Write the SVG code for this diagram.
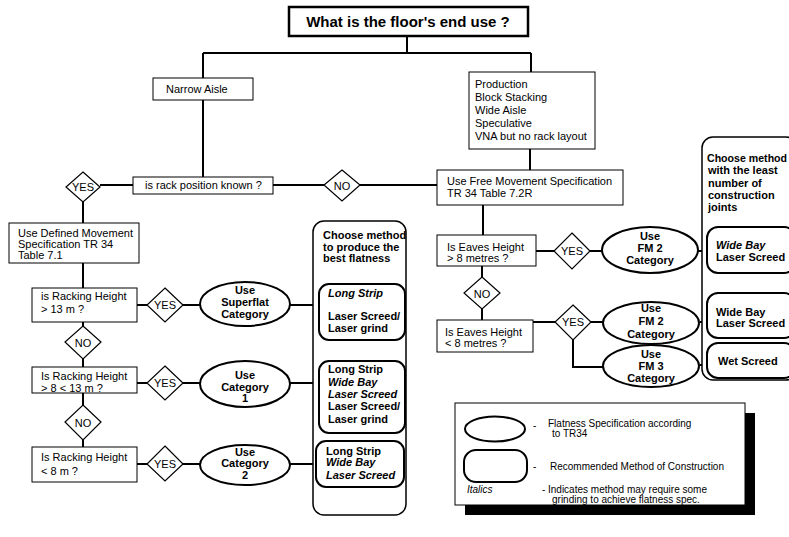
<svg xmlns="http://www.w3.org/2000/svg" width="789" height="537" viewBox="0 0 789 537">
  <style>
    text { font-family: "Liberation Sans", Arial, sans-serif; font-size: 11px; fill: #000; }
    .b { font-weight: bold; }
    .i { font-style: italic; }
    .t { font-size: 15px; font-weight: bold; }
    .lg { font-size: 10px; }
    .c { text-anchor: middle; }
    .hd { font-size: 10.6px; }
    .box { fill: #fff; stroke: #000; stroke-width: 1; }
    .dia { fill: #fff; stroke: #000; stroke-width: 1.2; }
    .ell { fill: #fff; stroke: #000; stroke-width: 2; }
    .pill { fill: #fff; stroke: #000; stroke-width: 2; }
    .col { fill: #fff; stroke: #000; stroke-width: 1.5; }
    .ln { fill: none; stroke: #000; stroke-width: 2; }
  </style>
  <rect width="789" height="537" fill="#fff"/>

  <!-- connectors -->
  <g id="connectors">
    <path class="ln" d="M407 36 V53 M203 53 H531 M203 53 V78 M531 53 V72"/>
    <path class="ln" d="M203 100 V177"/>
    <path class="ln" d="M100 185 H133 M273 185 H324 M360 185 H437"/>
    <path class="ln" d="M530 149 V170"/>
    <path class="ln" d="M83 202 V223 M83 263 V288"/>
    <path class="ln" d="M83 322 V326 M83 359 V367 M83 393 V405 M83 440 V447"/>
    <path class="ln" d="M137 305 H147 M183 305 H200 M290 305 H319"/>
    <path class="ln" d="M137 383 H147 M183 383 H200 M290 383 H319"/>
    <path class="ln" d="M137 464 H147 M183 464 H200 M290 464 H316"/>
    <path class="ln" d="M483 205 V235"/>
    <path class="ln" d="M536 251 H554 M590 251 H602 M698 251 H707"/>
    <path class="ln" d="M482 266 V277 M482 309 V320"/>
    <path class="ln" d="M533 322 H555 M591 322 H603 M700 322 H707"/>
    <path class="ln" d="M573 340 V367 H603 M700 365 H707"/>
  </g>

  <!-- title -->
  <g id="title">
    <rect x="289" y="7" width="239" height="29" fill="#fff" stroke="#000" stroke-width="2.5"/>
    <text class="t c" x="408" y="27">What is the floor's end use ?</text>
  </g>

  <g id="narrow-aisle">
    <rect class="box" x="153" y="78" width="100" height="22"/>
    <text x="166" y="93">Narrow  Aisle</text>
  </g>

  <g id="end-uses">
    <rect class="box" x="469" y="72" width="126" height="77"/>
    <text x="475" y="88">Production</text>
    <text x="475" y="101">Block  Stacking</text>
    <text x="475" y="114">Wide  Aisle</text>
    <text x="475" y="127">Speculative</text>
    <text x="475" y="140">VNA  but  no  rack  layout</text>
  </g>

  <g id="rack-known">
    <rect class="box" x="133" y="177" width="140" height="17"/>
    <text x="145" y="189">is  rack  position  known ?</text>
  </g>

  <g id="yes-rack">
    <polygon class="dia" points="83,172 100,187 83,202 66,187"/>
    <text class="c" x="83" y="191">YES</text>
  </g>
  <g id="no-rack">
    <polygon class="dia" points="342,170 360,185 342,201 324,185"/>
    <text class="c" x="342" y="190" font-size="12">NO</text>
  </g>

  <!-- defined movement branch -->
  <g id="defined-movement">
    <rect class="box" x="9" y="223" width="130" height="40"/>
    <text x="18" y="237">Use  Defined  Movement</text>
    <text x="18" y="248">Specification  TR  34</text>
    <text x="18" y="259">Table  7.1</text>
  </g>

  <g id="rack-13">
    <rect class="box" x="32" y="288" width="105" height="34"/>
    <text x="41" y="300">is  Racking  Height</text>
    <text x="41" y="313">&gt; 13  m  ?</text>
  </g>
  <g id="yes-13">
    <polygon class="dia" points="165,288 183,305 165,322 147,305"/>
    <text class="c" x="165" y="309">YES</text>
  </g>
  <g id="superflat">
    <ellipse class="ell" cx="245" cy="304" rx="45" ry="22"/>
    <text class="b c" x="245" y="294">Use</text>
    <text class="b c" x="245" y="306">Superflat</text>
    <text class="b c" x="245" y="318">Category</text>
  </g>

  <g id="no-13">
    <polygon class="dia" points="83,326 101,342 83,359 65,342"/>
    <text class="c" x="83" y="347" font-size="12">NO</text>
  </g>

  <g id="rack-8-13">
    <rect class="box" x="32" y="367" width="105" height="26"/>
    <text x="41" y="380">Is  Racking  Height</text>
    <text x="41" y="392">&gt; 8 &lt; 13  m  ?</text>
  </g>
  <g id="yes-8-13">
    <polygon class="dia" points="165,366 183,383 165,400 147,383"/>
    <text class="c" x="165" y="387">YES</text>
  </g>
  <g id="category-1">
    <ellipse class="ell" cx="245" cy="384" rx="45" ry="23"/>
    <text class="b c" x="245" y="379">Use</text>
    <text class="b c" x="245" y="391">Category</text>
    <text class="b c" x="245" y="402">1</text>
  </g>

  <g id="no-8-13">
    <polygon class="dia" points="83,405 101,422 83,440 65,422"/>
    <text class="c" x="83" y="427" font-size="12">NO</text>
  </g>

  <g id="rack-8">
    <rect class="box" x="32" y="447" width="105" height="35"/>
    <text x="41" y="461">Is  Racking  Height</text>
    <text x="41" y="475">&lt; 8 m ?</text>
  </g>
  <g id="yes-8">
    <polygon class="dia" points="165,446 183,464 165,481 147,464"/>
    <text class="c" x="165" y="468">YES</text>
  </g>
  <g id="category-2">
    <ellipse class="ell" cx="245" cy="465" rx="45" ry="20"/>
    <text class="b c" x="245" y="456">Use</text>
    <text class="b c" x="245" y="467">Category</text>
    <text class="b c" x="245" y="479">2</text>
  </g>

  <!-- construction methods for defined movement -->
  <g id="methods-flatness">
    <rect class="col" x="313" y="221" width="93" height="294" rx="11"/>
    <text class="b" x="323" y="239">Choose  method</text>
    <text class="b" x="323" y="251">to  produce  the</text>
    <text class="b" x="323" y="262">best  flatness</text>
  </g>
  <g id="method-superflat">
    <rect class="pill" x="319" y="284" width="86" height="56" rx="10"/>
    <text class="b i" x="328" y="297">Long  Strip</text>
    <text class="b" x="328" y="320">Laser  Screed/</text>
    <text class="b" x="328" y="332">Laser  grind</text>
  </g>
  <g id="method-cat1">
    <rect class="pill" x="319" y="361" width="86" height="72" rx="10"/>
    <text class="b" x="328" y="373">Long  Strip</text>
    <text class="b i" x="328" y="386">Wide  Bay</text>
    <text class="b i" x="328" y="398">Laser  Screed</text>
    <text class="b" x="328" y="410">Laser  Screed/</text>
    <text class="b" x="328" y="423">Laser  grind</text>
  </g>
  <g id="method-cat2">
    <rect class="pill" x="316" y="441" width="88" height="46" rx="10"/>
    <text class="b" x="326" y="455">Long  Strip</text>
    <text class="b i" x="326" y="466">Wide  Bay</text>
    <text class="b i" x="326" y="479">Laser  Screed</text>
  </g>

  <!-- free movement branch -->
  <g id="free-movement">
    <rect class="box" x="437" y="170" width="186" height="35"/>
    <text x="447" y="185">Use  Free  Movement  Specification</text>
    <text x="447" y="197">TR  34  Table  7.2R</text>
  </g>

  <g id="eaves-over-8">
    <rect class="box" x="437" y="235" width="99" height="31"/>
    <text x="447" y="251">Is  Eaves  Height</text>
    <text x="447" y="262">&gt; 8  metres  ?</text>
  </g>
  <g id="yes-eaves-over">
    <polygon class="dia" points="572,233 590,251 572,269 554,251"/>
    <text class="c" x="572" y="255">YES</text>
  </g>
  <g id="fm2-over">
    <ellipse class="ell" cx="650" cy="250" rx="48" ry="23"/>
    <text class="b c" x="650" y="240">Use</text>
    <text class="b c" x="650" y="252">FM  2</text>
    <text class="b c" x="650" y="264">Category</text>
  </g>

  <g id="no-eaves">
    <polygon class="dia" points="482,277 500,293 482,309 464,293"/>
    <text class="c" x="482" y="298" font-size="12">NO</text>
  </g>

  <g id="eaves-under-8">
    <rect class="box" x="437" y="320" width="96" height="32"/>
    <text x="445" y="336">Is  Eaves  Height</text>
    <text x="445" y="347">&lt; 8  metres  ?</text>
  </g>
  <g id="yes-eaves-under">
    <polygon class="dia" points="573,305 591,322 573,340 555,322"/>
    <text class="c" x="573" y="326">YES</text>
  </g>
  <g id="fm2-under">
    <ellipse class="ell" cx="651" cy="323" rx="48" ry="21"/>
    <text class="b c" x="651" y="312">Use</text>
    <text class="b c" x="651" y="325">FM  2</text>
    <text class="b c" x="651" y="338">Category</text>
  </g>
  <g id="fm3-under">
    <ellipse class="ell" cx="651" cy="366" rx="48" ry="21"/>
    <text class="b c" x="651" y="358">Use</text>
    <text class="b c" x="651" y="370">FM  3</text>
    <text class="b c" x="651" y="382">Category</text>
  </g>

  <!-- construction methods for free movement -->
  <g id="methods-joints">
    <rect class="col" x="702" y="137" width="95" height="243" rx="11"/>
    <text class="b hd" x="707" y="162">Choose  method</text>
    <text class="b" x="708" y="174">with  the  least</text>
    <text class="b" x="708" y="187">number  of</text>
    <text class="b" x="708" y="199">construction</text>
    <text class="b" x="708" y="211">joints</text>
  </g>
  <g id="method-fm2-over">
    <rect class="pill" x="707" y="227" width="88" height="46" rx="11"/>
    <text class="b i" x="716" y="249">Wide  Bay</text>
    <text class="b" x="716" y="261">Laser  Screed</text>
  </g>
  <g id="method-fm2-under">
    <rect class="pill" x="707" y="293" width="88" height="45" rx="11"/>
    <text class="b" x="716" y="316">Wide Bay</text>
    <text class="b" x="716" y="327">Laser  Screed</text>
  </g>
  <g id="method-fm3">
    <rect class="pill" x="707" y="343" width="88" height="35" rx="11"/>
    <text class="b" x="718" y="365">Wet  Screed</text>
  </g>

  <!-- key -->
  <g id="legend">
    <rect x="465" y="413" width="290" height="102" fill="#000"/>
    <rect x="455" y="403" width="290" height="102" fill="#fff" stroke="#000" stroke-width="1"/>
    <ellipse cx="495" cy="429" rx="30" ry="12.5" fill="#fff" stroke="#000" stroke-width="2"/>
    <text class="lg" x="533" y="429">-</text>
    <text class="lg" x="548" y="427">Flatness  Specification  according</text>
    <text class="lg" x="552" y="437">to TR34</text>
    <rect x="464" y="450" width="63" height="32" rx="12" fill="#fff" stroke="#000" stroke-width="2"/>
    <text class="lg" x="533" y="470">-</text>
    <text class="lg" x="550" y="470">Recommended  Method  of  Construction</text>
    <text class="lg i" x="467" y="493">Italics</text>
    <text class="lg" x="542" y="493">-</text>
    <text class="lg" x="548" y="493">Indicates  method  may  require  some</text>
    <text class="lg" x="552" y="503">grinding  to  achieve  flatness  spec.</text>
  </g>
</svg>
